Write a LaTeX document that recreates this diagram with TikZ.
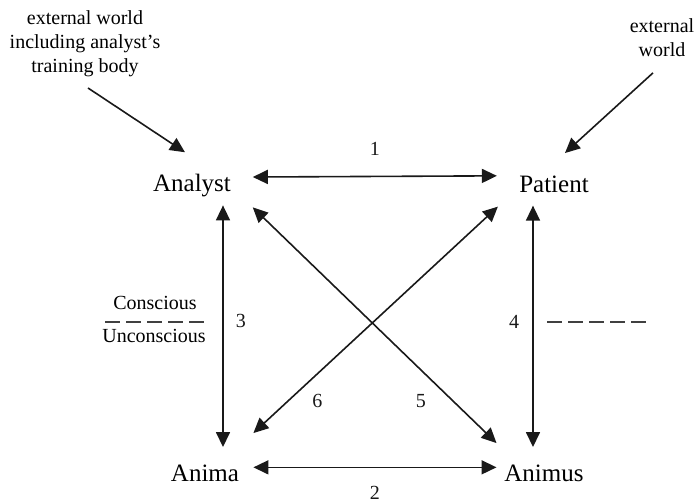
\documentclass[tikz,border=0pt]{standalone}
\usepackage{fontspec}
\setmainfont{Liberation Serif}
\usetikzlibrary{arrows.meta,positioning}

\begin{document}
\begin{tikzpicture}[x=0.5pt,y=-0.5pt,
   big/.style={font=\fontsize{12.5}{15}\selectfont,inner sep=0pt,anchor=base},
   small/.style={font=\fontsize{10}{12}\selectfont,inner sep=0pt},
   num/.style={font=\fontsize{10}{12}\selectfont,inner sep=0pt},
   dbl/.style={{Triangle[length=7.5pt,width=7pt]}-{Triangle[length=7.5pt,width=7pt]},line width=0.8pt,black!90},
   sgl/.style={-{Triangle[length=7.5pt,width=7pt]},line width=0.8pt,black!90},
   sep/.style={dash pattern=on 7.5pt off 3pt,line width=1pt,black!75}]
   \useasboundingbox (0,0) rectangle (698,502);
   % the four figures
   \node[big] (analyst) at (192,192) {Analyst};
   \node[big] (patient) at (554,193) {Patient};
   \node[big] (anima)   at (205,482) {Anima};
   \node[big] (animus)  at (544,482) {Animus};
   % outside influences
   \node[small,align=center,anchor=north] (ext1) at (85,10) {external world\\including analyst's\\training body};
   \node[small,align=center,anchor=north] (ext2) at (662,18) {external\\world};
   % conscious / unconscious threshold
   \node[small,anchor=base] (con)   at (155,310) {Conscious};
   \node[small,anchor=base] (uncon) at (154,343) {Unconscious};
   \coordinate (cl) at (105,322);
   \coordinate (cr) at (208,322);
   \coordinate (dl) at (547,322);
   \coordinate (dr) at (650,322);
   \draw[sep] (cl) -- (cr);
   \draw[sep] (dl) -- (dr);
   \path[sgl]
   ([shift={(3,11)}]ext1.south) edge ([shift={(-7,-22)}]analyst.north)
   ([shift={(-9,16)}]ext2.south) edge ([shift={(11,-23)}]patient.north);
   \path[dbl]
   ([shift={(21.5,-9)}]analyst.east) edge node[num,above=10pt] {1} ([shift={(-22,-9)}]patient.west)
   ([shift={(14,-6.5)}]anima.east) edge node[num,below=9pt] {2} ([shift={(-7.5,-6.5)}]animus.west)
   ([shift={(31,7.6)}]analyst.south) edge node[num,pos=0.48,right=6pt] {3} ([shift={(18,-18)}]anima.north)
   ([shift={(-21,12)}]patient.south) edge node[num,pos=0.48,left=6.5pt] {4} ([shift={(-11,-18)}]animus.north)
   ([shift={(21.5,9.6)}]analyst.south east) edge node[num,pos=0.82,left=13pt] {5} ([shift={(-7.5,-22)}]animus.north west)
   ([shift={(-21,13)}]patient.south west) edge node[num,pos=0.86,right=12pt] {6} ([shift={(14,-32)}]anima.north east);
\end{tikzpicture}
\end{document}
